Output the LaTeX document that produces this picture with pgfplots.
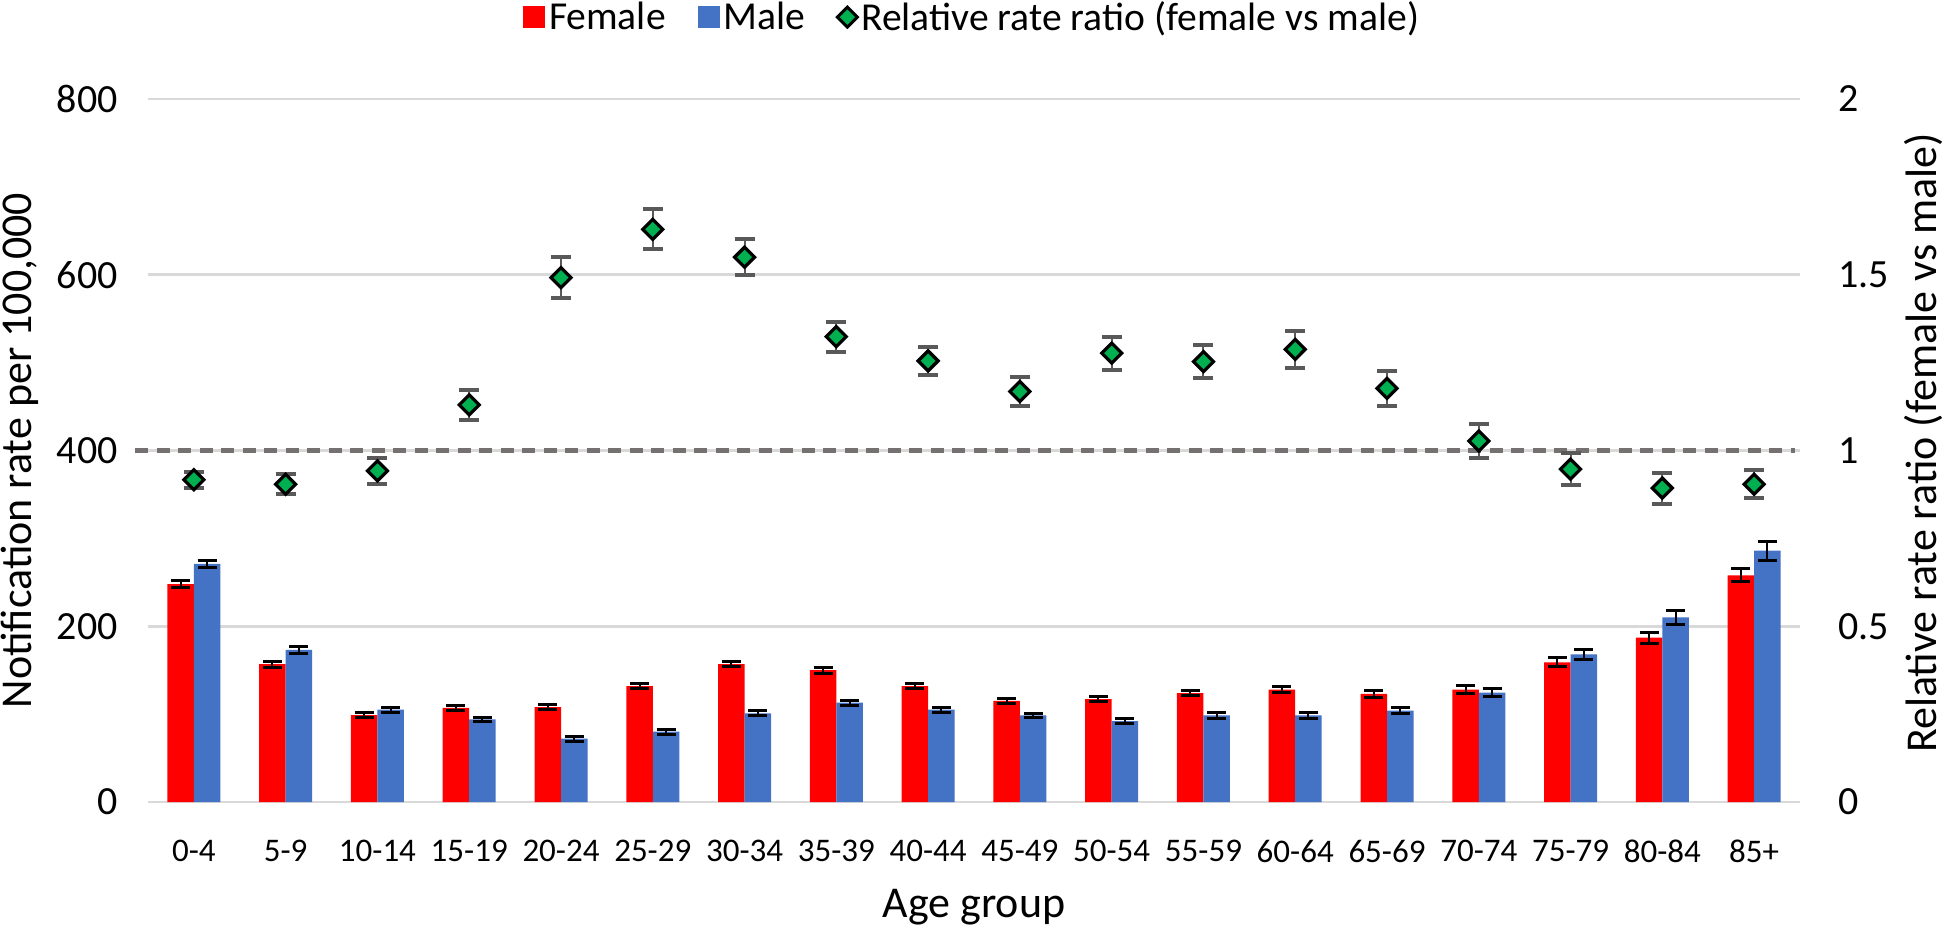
\documentclass[border=0pt]{standalone}
\usepackage{fontspec}
\setmainfont{Carlito}
\usepackage{pgfplots}
\pgfplotsset{compat=1.18}
\definecolor{fem}{HTML}{FF0000}
\definecolor{mal}{HTML}{4472C4}
\definecolor{rrg}{HTML}{00B050}
\definecolor{gridc}{HTML}{D9D9D9}
\definecolor{errg}{HTML}{595959}
\definecolor{dashc}{HTML}{767171}
\begin{document}
\begin{tikzpicture}
\useasboundingbox (0,0) rectangle (973pt,464pt);
\pgfplotsset{
  base/.style={at={(74pt,63pt)}, anchor=south west, scale only axis,
    width=826pt, height=351.5pt, xmin=-0.5, xmax=17.5,
    axis line style={draw=none}, major tick length=0pt,
    /pgf/number format/assume math mode=true, clip=false},
}
\begin{axis}[base, ymin=0, ymax=800, ytick={0,200,400,600,800},
  ymajorgrids, grid style={gridc, line width=1.4pt},
  xtick={0,...,17},
  xticklabels={0-4,5-9,10-14,15-19,20-24,25-29,30-34,35-39,40-44,45-49,50-54,55-59,60-64,65-69,70-74,75-79,80-84,85+},
  x tick label style={font=\fontsize{16.5}{18}\selectfont, anchor=north, inner sep=0pt, yshift=-19pt},
  y tick label style={font=\fontsize{20}{22}\selectfont, anchor=east, inner sep=0pt, xshift=-15pt},
  ylabel={Notification rate per 100,000}, xlabel={Age group},
  every axis y label/.style={at={(axis description cs:-0.0775,0.5)}, rotate=90, anchor=center, font=\fontsize{22}{24}\selectfont},
  every axis x label/.style={at={(axis description cs:0.5,-0.165)}, anchor=base, font=\fontsize{22}{24}\selectfont},
  ybar=0pt, bar width=13.25pt,
  legend columns=3, legend cell align=left,
  legend style={at={(axis description cs:0.4994,1.1166)}, anchor=center, draw=none, fill=none,
    font=\fontsize{19.8}{21}\selectfont, /tikz/every even column/.append style={column sep=14pt}},
]
\addplot[fill=fem, draw=none,
  legend image code/.code={\fill[fem] (0pt,-5.5pt) rectangle (11pt,5.5pt);},
  error bars/.cd, y dir=both, y explicit,
  error bar style={black, line width=1pt},
  error mark options={rotate=90, mark size=4.75pt, line width=1.5pt, black}]
coordinates {
(0,248) +- (0,3.6)
(1,157) +- (0,3.4)
(2,99) +- (0,2.9)
(3,107) +- (0,2.9)
(4,108) +- (0,3.0)
(5,132) +- (0,3.0)
(6,157) +- (0,3.2)
(7,150) +- (0,3.2)
(8,132) +- (0,3.2)
(9,115) +- (0,2.9)
(10,117) +- (0,2.9)
(11,124) +- (0,3.2)
(12,128) +- (0,3.0)
(13,123) +- (0,3.6)
(14,128) +- (0,4.4)
(15,159) +- (0,5.1)
(16,187) +- (0,6.3)
(17,258) +- (0,7.2)
};
\addlegendentry{Female}
\addplot[fill=mal, draw=none,
  legend image code/.code={\fill[mal] (0pt,-5.5pt) rectangle (11pt,5.5pt);},
  error bars/.cd, y dir=both, y explicit,
  error bar style={black, line width=1pt},
  error mark options={rotate=90, mark size=4.75pt, line width=1.5pt, black}]
coordinates {
(0,271) +- (0,4.4)
(1,173) +- (0,3.6)
(2,105) +- (0,3.0)
(3,94) +- (0,2.7)
(4,72) +- (0,2.7)
(5,80) +- (0,2.7)
(6,101) +- (0,3.0)
(7,113) +- (0,3.0)
(8,105) +- (0,3.0)
(9,98.5) +- (0,2.7)
(10,92) +- (0,2.9)
(11,98.5) +- (0,3.0)
(12,98.5) +- (0,2.9)
(13,104) +- (0,3.4)
(14,124.5) +- (0,4.2)
(15,168) +- (0,5.3)
(16,210) +- (0,7.6)
(17,286) +- (0,10.6)
};
\addlegendentry{Male}
\addlegendimage{legend image code/.code={%
  \begin{scope}[shift={(9pt,0pt)}, fill=rrg, draw=black, line width=1.5pt, xscale=1.333]
  \pgfsetplotmarksize{5pt}\pgfuseplotmark{diamond*}
  \end{scope}}}
\addlegendentry{Relative rate ratio (female vs male)}
\end{axis}
\begin{axis}[base, ymin=0, ymax=2, ytick={0,0.5,1,1.5,2},
  axis y line*=right, axis x line=none,
  y tick label style={font=\fontsize{20}{22}\selectfont, anchor=west, inner sep=0pt, xshift=19pt},
  ylabel={Relative rate ratio (female vs male)},
  every axis y label/.style={at={(axis description cs:1.0745,0.5107)}, rotate=90, anchor=center, font=\fontsize{22}{24}\selectfont},
]
\addplot[dashc, line width=2.3pt, dash pattern=on 6.5pt off 4.25pt, forget plot]
coordinates {(-0.64,1) (17.45,1)};
\addplot[only marks, mark=diamond*, mark size=5pt,
  mark options={fill=rrg, draw=black, line width=1.6pt, xscale=1.333},
  error bars/.cd, y dir=both, y explicit,
  error bar style={errg, line width=1pt},
  error mark options={rotate=90, mark size=5pt, line width=2pt, errg, xscale=1}]
coordinates {
(0,0.917) +- (0,0.023)
(1,0.904) +- (0,0.028)
(2,0.942) +- (0,0.038)
(3,1.130) +- (0,0.043)
(4,1.492) +- (0,0.058)
(5,1.629) +- (0,0.057)
(6,1.550) +- (0,0.051)
(7,1.324) +- (0,0.043)
(8,1.255) +- (0,0.040)
(9,1.168) +- (0,0.042)
(10,1.277) +- (0,0.047)
(11,1.253) +- (0,0.047)
(12,1.288) +- (0,0.052)
(13,1.177) +- (0,0.050)
(14,1.027) +- (0,0.047)
(15,0.947) +- (0,0.045)
(16,0.893) +- (0,0.044)
(17,0.904) +- (0,0.040)
};
\end{axis}
\end{tikzpicture}
\end{document}
